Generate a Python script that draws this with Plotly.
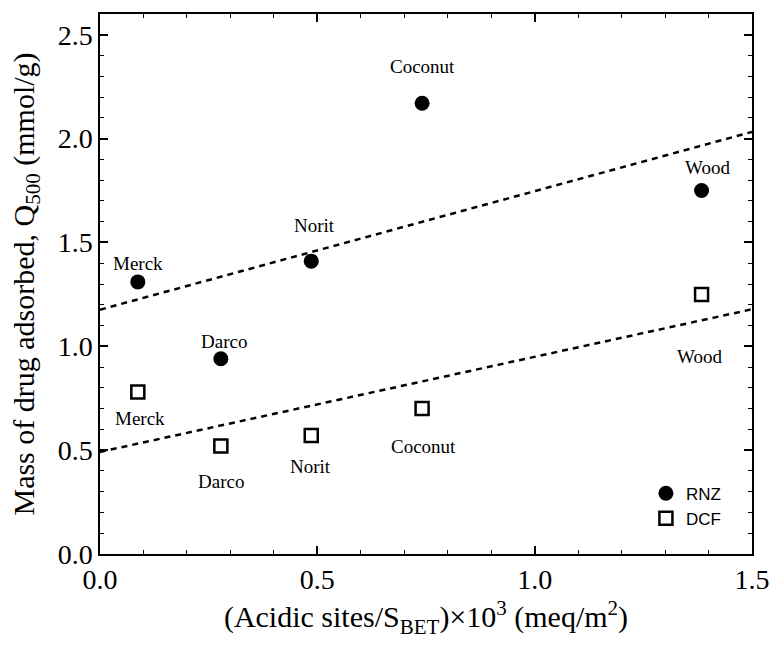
import numpy as np
import plotly.graph_objects as go

carbons = ["Merck", "Darco", "Norit", "Coconut", "Wood"]
acidic_sites = [0.087, 0.278, 0.486, 0.741, 1.384]
rnz_q500 = [1.31, 0.94, 1.41, 2.17, 1.75]
dcf_q500 = [0.78, 0.52, 0.57, 0.70, 1.25]

x_ticks = [0.0, 0.5, 1.0, 1.5]
y_ticks = [0.0, 0.5, 1.0, 1.5, 2.0, 2.5]

# label offsets in pixels (x, y) relative to the marker
rnz_label_shift = [(0, 18), (3, 17), (3, 36), (0, 37), (6, 23)]
dcf_label_shift = [(2, -26), (0, -35), (-1, -31), (1, -38), (-2, -62)]

serif = "Liberation Serif"
fig = go.Figure()

xs = np.array(acidic_sites)
xfit = np.array([0.0, 1.5])
for yvals in (rnz_q500, dcf_q500):
    k, b = np.polyfit(xs, np.array(yvals), 1)
    fig.add_trace(go.Scatter(x=xfit, y=k * xfit + b, mode="lines",
                             line=dict(color="black", width=2.5, dash="6px,5px"),
                             showlegend=False, hoverinfo="skip"))

fig.add_trace(go.Scatter(x=acidic_sites, y=rnz_q500, mode="markers", name="RNZ",
                         marker=dict(symbol="circle", size=15, color="black")))
fig.add_trace(go.Scatter(x=acidic_sites, y=dcf_q500, mode="markers", name="DCF",
                         marker=dict(symbol="square-open", size=13, color="black",
                                     line=dict(width=2.5, color="black"))))

anns = []
for name, xv, yv, (dx, dy) in zip(carbons, acidic_sites, rnz_q500, rnz_label_shift):
    anns.append(dict(x=xv, y=yv, xref="x", yref="y", text=name, showarrow=False,
                     xshift=dx, yshift=dy, font=dict(family=serif, size=19, color="black")))
for name, xv, yv, (dx, dy) in zip(carbons, acidic_sites, dcf_q500, dcf_label_shift):
    anns.append(dict(x=xv, y=yv, xref="x", yref="y", text=name, showarrow=False,
                     xshift=dx, yshift=dy, font=dict(family=serif, size=19, color="black")))

axis_common = dict(showline=True, linecolor="black", linewidth=1.5, mirror="ticks",
                   ticks="inside", ticklen=8, tickwidth=1.5, tickcolor="black",
                   showgrid=False, zeroline=False,
                   tickfont=dict(family=serif, size=28, color="black"),
                   minor=dict(ticks="inside", ticklen=4, tickwidth=1.2,
                              tickcolor="black", dtick=0.1, showgrid=False))

fig.update_layout(
    width=782, height=648,
    margin=dict(l=100, r=24, t=13, b=94),
    paper_bgcolor="white", plot_bgcolor="white",
    annotations=anns,
    xaxis=dict(range=[0, 1.5], tickvals=x_ticks, ticktext=[f"{v:.1f}" for v in x_ticks],
               title=dict(text="(Acidic sites/S<sub>BET</sub>)×10<sup>3</sup> (meq/m<sup>2</sup>)",
                          font=dict(family=serif, size=30, color="black"), standoff=12),
               **axis_common),
    yaxis=dict(range=[0, 2.6], tickvals=y_ticks, ticktext=[f"{v:.1f}" for v in y_ticks],
               title=dict(text="Mass of drug adsorbed, Q<sub>500</sub> (mmol/g)",
                          font=dict(family=serif, size=30, color="black"), standoff=14),
               **axis_common),
    legend=dict(x=0.96, y=0.145, xanchor="right", yanchor="top",
                bgcolor="rgba(0,0,0,0)", font=dict(family="Liberation Sans", size=17, color="black"),
                itemwidth=30, tracegroupgap=0),
    showlegend=True,
)

fig.write_html("out.html")
